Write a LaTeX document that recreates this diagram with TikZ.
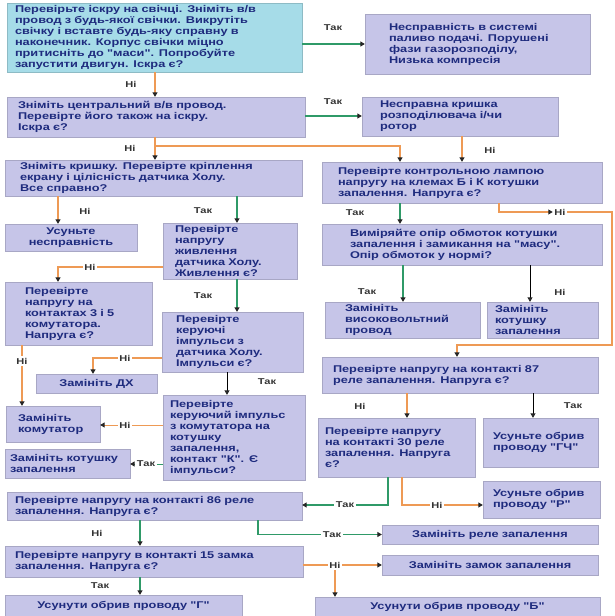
\documentclass[tikz,border=0pt]{standalone}
\usepackage{fontspec}
\setmainfont{Liberation Sans}
\newfontfamily\chartfont{Liberation Sans}[FakeStretch=1.3]
\usepackage{xcolor}
\usepackage{tikz}
\usetikzlibrary{arrows.meta}

\definecolor{boxfill}{HTML}{C6C5E8}
\definecolor{firstfill}{HTML}{A6DCE8}
\definecolor{inkblue}{HTML}{1E2B7E}
\definecolor{noline}{HTML}{EE9A55}
\definecolor{yesline}{HTML}{2F9A68}

\begin{document}
\begin{tikzpicture}[x=1pt,y=-1pt,
  task/.style={draw=boxfill!85!black,line width=0.3pt,fill=boxfill,text=inkblue,
    inner xsep=8pt,inner ysep=1pt,align=left,
    font=\chartfont\bfseries\fontsize{9.8}{11}\selectfont},
  first/.style={task,fill=firstfill,draw=firstfill!85!black},
  answer/.style={font=\chartfont\bfseries\fontsize{8.5}{9}\selectfont,text=black!80,inner sep=1.5pt},
  link/.style={-{Triangle[length=4.5pt,width=5pt,color=black!85]},line width=1.6pt},
  nolink/.style={link,draw=noline},
  yeslink/.style={link,draw=yesline},
  darklink/.style={link,draw=black,line width=0.8pt}]
\useasboundingbox (0,0) rectangle (614,616);

% boxes, left part
\node[first,text width=279pt,minimum height=69pt] (spark) at (154.5,37.5)
  {Перевірьте іскру на свічці. Зніміть в/в\\провод з будь-якої свічки. Викрутіть\\свічку і вставте будь-яку справну в\\наконечник. Корпус свічки міцно\\притисніть до "маси". Попробуйте\\запустити двигун. Іскра є?};
\node[task,inner xsep=24pt,text width=177pt,minimum height=60pt] (fuel) at (477.5,44)
  {Несправність в системі\\паливо подачі. Порушені\\фази газорозподілу,\\Низька компресія};
\node[task,inner xsep=11pt,text width=276pt,minimum height=40pt] (centralwire) at (156,117)
  {Зніміть центральний в/в провод.\\Перевірте його також на іскру.\\Іскра є?};
\node[task,inner xsep=18pt,text width=160pt,minimum height=39pt] (cap) at (460,116.5)
  {Несправна кришка\\розподілювача і/чи\\ротор};
\node[task,inner xsep=15pt,text width=267pt,minimum height=36pt] (hall) at (153.5,178)
  {Зніміть кришку. Перевірте кріплення\\екрану і цілісність датчика Холу.\\Все справно?};
\node[task,inner xsep=16pt,text width=248pt,minimum height=41pt] (lamp) at (462,182.5)
  {Перевірте контрольною лампою\\напругу на клемах Б і К котушки\\запалення. Напруга є?};
\node[task,align=center,text width=116pt,minimum height=27pt] (repair) at (71,237.5)
  {Усуньте\\несправність};
\node[task,inner xsep=12pt,text width=110pt,minimum height=56pt] (hallpower) at (230,251)
  {Перевірте\\напругу\\живлення\\датчика Холу.\\Живлення є?};
\node[task,inner xsep=28pt,text width=224pt,minimum height=41pt] (resist) at (462,244.5)
  {Виміряйте опір обмоток котушки\\запалення і замикання на "масу".\\Опір обмоток у нормі?};
\node[task,inner xsep=20pt,text width=107pt,minimum height=63pt] (switchpins) at (78.5,313.5)
  {Перевірте\\напругу на\\контактах 3 і 5\\комутатора.\\Напруга є?};
\node[task,inner xsep=14pt,text width=113pt,minimum height=60pt] (hallpulse) at (232.5,342)
  {Перевірте\\керуючі\\імпульси з\\датчика Холу.\\Імпульси є?};
\node[task,inner xsep=20pt,text width=115pt,minimum height=36pt] (newhv) at (402.5,320)
  {Замініть\\високовольтний\\провод};
\node[task,text width=95pt,minimum height=36pt] (newcoilA) at (542.5,320)
  {Замініть\\котушку\\запалення};
\node[task,align=center,text width=105pt,minimum height=19pt] (newhall) at (96.5,383.5)
  {Замініть ДХ};
\node[task,inner xsep=12pt,text width=70pt,minimum height=36pt] (newswitch) at (53,424)
  {Замініть\\комутатор};
\node[task,inner xsep=7pt,text width=128pt,minimum height=85pt] (coilpulse) at (234,437.5)
  {Перевірте\\керуючий імпульс\\з комутатора на\\котушку\\запалення,\\контакт "К". Є\\імпульси?};
\node[task,inner xsep=5pt,text width=115pt,minimum height=29pt] (newcoilB) at (67.5,463.5)
  {Замініть котушку\\запалення};

% boxes, right part and bottom
\node[task,inner xsep=11pt,text width=254pt,minimum height=36pt] (pin87) at (460,375)
  {Перевірте напругу на контакті 87\\реле запалення. Напруга є?};
\node[task,inner xsep=7pt,text width=143pt,minimum height=59pt] (pin30) at (396.5,447.5)
  {Перевірте напругу\\на контакті 30 реле\\запалення. Напруга\\є?};
\node[task,inner xsep=10pt,text width=95pt,minimum height=49pt] (wireGCh) at (540.5,442.5)
  {Усуньте обрив\\проводу "ГЧ"};
\node[task,inner xsep=10pt,text width=97pt,minimum height=37pt] (wireR) at (541.5,499.5)
  {Усуньте обрив\\проводу "Р"};
\node[task,text width=279pt,minimum height=28pt] (pin86) at (154.5,506)
  {Перевірте напругу на контакті 86 реле\\запалення. Напруга є?};
\node[task,align=center,text width=200pt,minimum height=19pt] (newrelay) at (490,534.5)
  {Замініть реле запалення};
\node[task,inner xsep=10pt,text width=278pt,minimum height=31pt] (pin15) at (154,561.5)
  {Перевірте напругу в контакті 15 замка\\запалення. Напруга є?};
\node[task,align=center,text width=200pt,minimum height=20pt] (newlock) at (490,565)
  {Замініть замок запалення};
\node[task,align=center,text width=221pt,minimum height=21pt] (wireG) at (123.5,605.5)
  {Усунути обрив проводу "Г"};
\node[task,align=center,text width=269pt,minimum height=19pt] (wireB) at (457.5,606.5)
  {Усунути обрив проводу "Б"};

% connectors, left part
\draw[yeslink] (spark.east |- fuel) -- (fuel.west);
\node[answer] (a1) at (333,28) {Так};
\draw[nolink] (spark.south -| 155,0) -- (centralwire.north -| 155,0);
\node[answer] (a2) at (131,84) {Ні};
\draw[yeslink] (centralwire.east |- 0,116) -- (cap.west |- 0,116);
\node[answer] (a3) at (333,102) {Так};
\draw[nolink] (centralwire.south -| 155,0) -- (hall.north -| 155,0);
\node[answer] (a4) at (130,148) {Ні};
\draw[nolink] (centralwire.south -| 155,0) -- (155,146) -| (lamp.north -| 400,0);
\draw[nolink] (cap.south -| 462,0) -- (lamp.north -| 462,0);
\node[answer] (a5) at (490,150) {Ні};
\draw[nolink] (hall.south -| 58,0) -- (repair.north -| 58,0);
\node[answer] (a6) at (85,211) {Ні};
\draw[yeslink] (hall.south -| 237,0) -- (hallpower.north -| 237,0);
\node[answer] (a7) at (203,211) {Так};
\draw[nolink] (hallpower.west |- 0,267) -| (switchpins.north -| 58,0);
\node[answer,fill=white] (a8) at (90,267) {Ні};
\draw[yeslink] (hallpower.south -| 237,0) -- (hallpulse.north -| 237,0);
\node[answer] (a9) at (203,296) {Так};
\draw[nolink] (switchpins.south -| 22,0) -- (newswitch.north -| 22,0);
\node[answer,fill=white] (a10) at (22,361) {Ні};
\draw[nolink] (hallpulse.west |- 0,358) -| (newhall.north -| 93,0);
\node[answer,fill=white] (a11) at (125,358) {Ні};
\draw[darklink] (hallpulse.south -| 227,0) -- (coilpulse.north -| 227,0);
\node[answer] (a12) at (267,382) {Так};
\draw[nolink,line width=1pt] (coilpulse.west |- 0,425) -- (newswitch.east |- 0,425);
\node[answer,fill=white] (a13) at (125,425) {Ні};
\draw[yeslink,line width=1pt] (coilpulse.west |- 0,464) -- (newcoilB.east |- 0,464);
\node[answer,fill=white] (a14) at (146,464) {Так};

% connectors, right part
\draw[yeslink] (lamp.south -| 400,0) -- (resist.north -| 400,0);
\node[answer] (a15) at (355,213) {Так};
\node[answer] (a16) at (560,212) {Ні};
\draw[nolink] (lamp.south -| 499,0) |- (a16.west);
\draw[nolink] (a16.east) -| (612,345) -| (pin87.north -| 457,0);
\draw[yeslink] (resist.south -| 403,0) -- (newhv.north -| 403,0);
\node[answer] (a17) at (367,292) {Так};
\draw[darklink] (resist.south -| 530,0) -- (newcoilA.north -| 530,0);
\node[answer] (a18) at (560,292) {Ні};
\draw[nolink] (pin87.south -| 407,0) -- (pin30.north -| 407,0);
\node[answer] (a19) at (360,406) {Ні};
\draw[darklink] (pin87.south -| 533,0) -- (wireGCh.north -| 533,0);
\node[answer] (a20) at (573,406) {Так};
\draw[yeslink] (pin30.south -| 388,0) |- (pin86.east |- 0,505);
\node[answer,fill=white] (a21) at (345,505) {Так};
\draw[nolink] (pin30.south -| 402,0) |- (wireR.west |- 0,505);
\node[answer,fill=white] (a22) at (437,505) {Ні};

% connectors, bottom
\draw[yeslink] (pin86.south -| 258,0) |- (newrelay.west);
\node[answer,fill=white] (a23) at (332,534.5) {Так};
\draw[yeslink] (pin86.south -| 140,0) -- (pin15.north -| 140,0);
\node[answer] (a24) at (97,533) {Ні};
\node[answer] (a25) at (335,565) {Ні};
\draw[nolink,-] (pin15.east |- a25) -- (a25.west);
\draw[nolink] (a25.east) -- (newlock.west |- a25);
\draw[nolink] (a25.south) -- (wireB.north -| a25);
\draw[yeslink] (pin15.south -| 140,0) -- (wireG.north -| 140,0);
\node[answer] (a26) at (100,586) {Так};
\end{tikzpicture}
\end{document}
